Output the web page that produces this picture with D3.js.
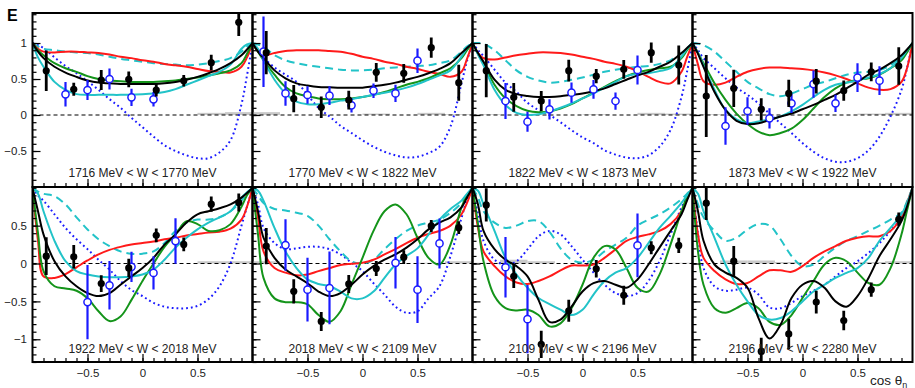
<!DOCTYPE html>
<html>
<head>
<meta charset="utf-8">
<script src="https://cdn.jsdelivr.net/npm/d3@7"></script>
<style>
body { margin: 0; background: #fff; }
svg { display: block; font-family: "Liberation Sans", Arial, sans-serif; }
</style>
</head>
<body>
<div id="chart"></div>
<script>
// cos theta grid the model curves are read on
const cosGrid = [-1, -0.95, -0.9, -0.8, -0.7, -0.6, -0.5, -0.4, -0.3, -0.2, -0.1, 0, 0.1, 0.2, 0.3, 0.4, 0.5, 0.6, 0.7, 0.8, 0.9, 0.95, 1];

const panelLabels = [
  "1716 MeV < W < 1770 MeV", "1770 MeV < W < 1822 MeV", "1822 MeV < W < 1873 MeV", "1873 MeV < W < 1922 MeV",
  "1922 MeV < W < 2018 MeV", "2018 MeV < W < 2109 MeV", "2109 MeV < W < 2196 MeV", "2196 MeV < W < 2280 MeV"
];

// red solid
const curveRed = [
  [1, 0.92, 0.88, 0.87, 0.88, 0.88, 0.87, 0.86, 0.84, 0.81, 0.79, 0.76, 0.74, 0.71, 0.69, 0.67, 0.64, 0.61, 0.6, 0.59, 0.67, 0.8, 1],
  [1, 0.88, 0.83, 0.86, 0.89, 0.9, 0.9, 0.9, 0.89, 0.88, 0.85, 0.81, 0.78, 0.74, 0.71, 0.67, 0.64, 0.6, 0.57, 0.53, 0.6, 0.78, 1],
  [1, 0.86, 0.79, 0.77, 0.8, 0.83, 0.85, 0.87, 0.87, 0.86, 0.84, 0.81, 0.78, 0.74, 0.71, 0.67, 0.61, 0.53, 0.46, 0.44, 0.6, 0.8, 1],
  [1, 0.7, 0.47, 0.42, 0.45, 0.53, 0.6, 0.64, 0.66, 0.66, 0.65, 0.64, 0.62, 0.59, 0.55, 0.5, 0.44, 0.38, 0.35, 0.36, 0.46, 0.65, 1],
  [1, 0.3, -0.17, -0.19, -0.14, -0.05, 0.04, 0.12, 0.18, 0.22, 0.25, 0.27, 0.29, 0.32, 0.34, 0.37, 0.39, 0.41, 0.42, 0.46, 0.58, 0.75, 1],
  [1, 0.61, 0.16, -0.06, -0.12, -0.155, -0.146, -0.1, -0.06, -0.02, -0.004, 0.01, 0.05, 0.12, 0.19, 0.27, 0.34, 0.39, 0.43, 0.5, 0.65, 0.8, 1],
  [1, 0.47, 0.16, -0.035, -0.17, -0.25, -0.27, -0.23, -0.17, -0.09, -0.027, -0.027, -0.013, 0.075, 0.186, 0.3, 0.35, 0.385, 0.43, 0.52, 0.69, 0.85, 1],
  [1, 0.385, 0.075, -0.1, -0.21, -0.27, -0.257, -0.17, -0.09, -0.09, -0.11, -0.035, 0.075, 0.16, 0.23, 0.3, 0.34, 0.36, 0.36, 0.43, 0.61, 0.8, 1]
];

// cyan dashed
const curveCyanDash = [
  [1, 0.95, 0.92, 0.9, 0.88, 0.87, 0.86, 0.84, 0.81, 0.78, 0.76, 0.74, 0.72, 0.71, 0.7, 0.69, 0.7, 0.72, 0.75, 0.79, 0.88, 0.95, 1],
  [1, 0.98, 0.95, 0.83, 0.76, 0.72, 0.69, 0.67, 0.65, 0.63, 0.62, 0.62, 0.63, 0.65, 0.66, 0.67, 0.68, 0.69, 0.72, 0.76, 0.88, 0.95, 1],
  [1, 1.0, 0.99, 0.9, 0.76, 0.62, 0.53, 0.48, 0.45, 0.46, 0.49, 0.52, 0.56, 0.6, 0.63, 0.65, 0.67, 0.68, 0.71, 0.76, 0.86, 0.93, 1],
  [1, 0.99, 0.97, 0.88, 0.74, 0.6, 0.46, 0.37, 0.29, 0.26, 0.3, 0.36, 0.42, 0.46, 0.51, 0.56, 0.59, 0.6, 0.625, 0.69, 0.81, 0.9, 1],
  [1, 0.95, 0.92, 0.89, 0.78, 0.61, 0.45, 0.32, 0.23, 0.16, 0.13, 0.13, 0.16, 0.27, 0.43, 0.54, 0.58, 0.58, 0.61, 0.69, 0.83, 0.92, 1],
  [1, 0.9, 0.8, 0.72, 0.7, 0.67, 0.63, 0.5, 0.32, 0.16, 0.03, 0.0, 0.05, 0.19, 0.32, 0.43, 0.5, 0.54, 0.58, 0.67, 0.8, 0.9, 1],
  [1, 0.87, 0.69, 0.54, 0.47, 0.5, 0.56, 0.56, 0.42, 0.2, 0.05, 0.01, 0.05, 0.16, 0.25, 0.34, 0.5, 0.58, 0.65, 0.74, 0.85, 0.92, 1],
  [1, 0.78, 0.61, 0.43, 0.3, 0.34, 0.45, 0.52, 0.5, 0.32, 0.1, -0.035, -0.013, 0.1, 0.21, 0.3, 0.36, 0.43, 0.5, 0.58, 0.67, 0.82, 1]
];

// black solid
const curveBlack = [
  [1, 0.88, 0.79, 0.67, 0.59, 0.53, 0.48, 0.45, 0.44, 0.43, 0.43, 0.43, 0.43, 0.44, 0.46, 0.49, 0.53, 0.58, 0.64, 0.72, 0.83, 0.91, 1],
  [1, 0.88, 0.79, 0.62, 0.51, 0.44, 0.41, 0.39, 0.385, 0.38, 0.38, 0.38, 0.4, 0.42, 0.45, 0.49, 0.53, 0.58, 0.64, 0.72, 0.86, 0.93, 1],
  [1, 0.86, 0.74, 0.49, 0.35, 0.29, 0.265, 0.25, 0.25, 0.26, 0.28, 0.3, 0.33, 0.37, 0.43, 0.49, 0.55, 0.6, 0.67, 0.74, 0.86, 0.93, 1],
  [1, 0.85, 0.67, 0.32, 0.07, -0.08, -0.125, -0.115, -0.07, -0.02, 0.02, 0.08, 0.14, 0.21, 0.28, 0.37, 0.46, 0.56, 0.63, 0.72, 0.83, 0.91, 1],
  [1, 0.69, 0.385, 0.03, -0.17, -0.3, -0.39, -0.43, -0.39, -0.28, -0.17, -0.06, 0.075, 0.25, 0.385, 0.54, 0.65, 0.69, 0.73, 0.78, 0.87, 0.93, 1],
  [1, 0.69, 0.34, 0.075, -0.08, -0.17, -0.26, -0.37, -0.43, -0.39, -0.28, -0.146, -0.035, 0.05, 0.12, 0.21, 0.32, 0.45, 0.54, 0.61, 0.74, 0.87, 1],
  [1, 0.78, 0.43, 0.19, 0.05, -0.035, -0.17, -0.48, -0.77, -0.74, -0.57, -0.37, -0.26, -0.23, -0.28, -0.32, -0.21, -0.013, 0.21, 0.43, 0.65, 0.83, 1],
  [1, 0.69, 0.3, -0.013, -0.12, -0.19, -0.32, -0.72, -0.99, -0.81, -0.456, -0.28, -0.23, -0.32, -0.5, -0.57, -0.43, -0.19, 0.1, 0.32, 0.56, 0.75, 1]
];

// green solid
const curveGreen = [
  [1, 0.9, 0.83, 0.72, 0.65, 0.6, 0.54, 0.5, 0.48, 0.47, 0.46, 0.46, 0.46, 0.47, 0.48, 0.5, 0.52, 0.55, 0.58, 0.62, 0.72, 0.85, 1],
  [1, 0.88, 0.76, 0.56, 0.39, 0.3, 0.26, 0.23, 0.22, 0.22, 0.23, 0.25, 0.28, 0.32, 0.37, 0.42, 0.46, 0.51, 0.58, 0.65, 0.79, 0.9, 1],
  [1, 0.85, 0.72, 0.42, 0.23, 0.125, 0.06, 0.04, 0.05, 0.09, 0.15, 0.23, 0.31, 0.39, 0.47, 0.54, 0.59, 0.625, 0.65, 0.67, 0.79, 0.9, 1],
  [1, 0.86, 0.72, 0.44, 0.21, 0.02, -0.125, -0.23, -0.28, -0.25, -0.19, -0.07, 0.09, 0.25, 0.37, 0.45, 0.49, 0.51, 0.56, 0.65, 0.76, 0.87, 1],
  [1, 0.4, -0.1, -0.3, -0.33, -0.36, -0.46, -0.63, -0.76, -0.7, -0.48, -0.23, 0.0, 0.22, 0.385, 0.56, 0.52, 0.43, 0.44, 0.52, 0.75, 0.9, 1],
  [1, 0.385, -0.19, -0.46, -0.51, -0.51, -0.54, -0.68, -0.77, -0.63, -0.28, 0.075, 0.43, 0.69, 0.78, 0.65, 0.34, 0.075, -0.013, 0.25, 0.74, 0.9, 1],
  [1, 0.52, 0.03, -0.43, -0.59, -0.62, -0.61, -0.68, -0.83, -0.79, -0.59, -0.28, 0.075, 0.23, 0.186, -0.06, -0.32, -0.37, -0.146, 0.25, 0.69, 0.88, 1],
  [1, 0.16, -0.28, -0.59, -0.65, -0.59, -0.52, -0.59, -0.77, -0.81, -0.68, -0.456, -0.23, -0.013, 0.075, 0.03, -0.12, -0.257, -0.28, -0.06, 0.385, 0.7, 1]
];

// cyan solid
const curveCyan = [
  [1, 0.8, 0.67, 0.46, 0.35, 0.29, 0.28, 0.28, 0.28, 0.28, 0.285, 0.29, 0.3, 0.32, 0.36, 0.42, 0.48, 0.54, 0.6, 0.7, 0.92, 0.98, 1],
  [1, 0.92, 0.76, 0.49, 0.3, 0.185, 0.15, 0.15, 0.17, 0.2, 0.22, 0.25, 0.28, 0.31, 0.34, 0.38, 0.43, 0.49, 0.55, 0.62, 0.81, 0.93, 1],
  [1, 0.84, 0.69, 0.35, 0.14, 0.03, 0.0, 0.01, 0.05, 0.1, 0.16, 0.23, 0.3, 0.38, 0.46, 0.54, 0.57, 0.58, 0.61, 0.65, 0.81, 0.92, 1],
  [1, 0.86, 0.69, 0.35, 0.07, -0.06, -0.115, -0.09, -0.06, -0.02, 0.05, 0.14, 0.25, 0.35, 0.42, 0.45, 0.48, 0.52, 0.57, 0.65, 0.79, 0.9, 1],
  [1, 0.92, 0.69, 0.3, 0.03, -0.1, -0.146, -0.17, -0.18, -0.18, -0.17, -0.146, -0.08, 0.05, 0.21, 0.34, 0.45, 0.54, 0.61, 0.69, 0.87, 0.94, 1],
  [1, 0.96, 0.83, 0.47, 0.16, -0.06, -0.21, -0.27, -0.3, -0.37, -0.46, -0.46, -0.37, -0.19, -0.013, 0.1, 0.2, 0.38, 0.58, 0.72, 0.83, 0.92, 1],
  [1, 0.96, 0.78, 0.43, 0.075, -0.146, -0.32, -0.456, -0.535, -0.61, -0.68, -0.61, -0.41, -0.23, -0.12, -0.06, 0.075, 0.27, 0.47, 0.63, 0.8, 0.9, 1],
  [1, 0.92, 0.69, 0.34, -0.013, -0.28, -0.5, -0.68, -0.74, -0.72, -0.63, -0.5, -0.37, -0.28, -0.19, -0.124, -0.06, 0.075, 0.3, 0.47, 0.65, 0.8, 1]
];

// blue dotted
const curveBlueDot = [
  [1, 0.97, 0.93, 0.8, 0.68, 0.58, 0.47, 0.35, 0.22, 0.1, -0.04, -0.17, -0.3, -0.42, -0.5, -0.56, -0.6, -0.6, -0.52, -0.35, 0.15, 0.55, 1],
  [1, 0.9, 0.8, 0.66, 0.56, 0.46, 0.28, 0.1, -0.02, -0.15, -0.25, -0.35, -0.44, -0.51, -0.56, -0.59, -0.58, -0.53, -0.44, -0.16, 0.44, 0.75, 1],
  [1, 0.9, 0.82, 0.63, 0.45, 0.32, 0.17, 0.07, 0.0, -0.1, -0.21, -0.31, -0.39, -0.49, -0.55, -0.59, -0.6, -0.56, -0.44, -0.21, 0.25, 0.6, 1],
  [1, 0.9, 0.79, 0.65, 0.51, 0.38, 0.28, 0.16, 0.02, -0.115, -0.25, -0.39, -0.51, -0.6, -0.65, -0.65, -0.6, -0.49, -0.3, -0.02, 0.35, 0.65, 1],
  [1, 0.9, 0.83, 0.65, 0.47, 0.32, 0.19, 0.05, -0.08, -0.23, -0.35, -0.43, -0.52, -0.57, -0.59, -0.59, -0.56, -0.47, -0.3, 0.0, 0.5, 0.75, 1],
  [1, 0.78, 0.47, 0.27, 0.19, 0.2, 0.22, 0.22, 0.19, 0.12, 0.01, -0.1, -0.26, -0.41, -0.57, -0.65, -0.63, -0.46, -0.3, 0.1, 0.6, 0.85, 1],
  [1, 0.65, 0.3, 0.05, -0.013, 0.03, 0.186, 0.36, 0.43, 0.385, 0.23, 0.05, -0.12, -0.28, -0.39, -0.43, -0.39, -0.23, 0.03, 0.385, 0.74, 0.88, 1],
  [1, 0.385, -0.06, -0.3, -0.36, -0.345, -0.32, -0.41, -0.58, -0.59, -0.52, -0.43, -0.36, -0.28, -0.17, -0.06, 0.03, 0.14, 0.27, 0.43, 0.61, 0.78, 1]
];

// black data points (filled circles)
const blackCos = [-0.875, -0.625, -0.375, -0.125, 0.125, 0.375, 0.625, 0.875];
const blackVal = [
  [0.615, 0.357, 0.486, 0.496, 0.347, 0.476, 0.727, 1.287],
  [0.866, 0.227, 0.107, 0.208, 0.593, 0.579, 0.935, 0.449],
  [0.616, 0.245, 0.194, 0.616, 0.54, 0.634, 0.866, 0.694],
  [0.264, 0.37, 0.079, 0.3, 0.47, 0.338, 0.6, 0.68],
  [0.097, 0.088, -0.265, -0.058, 0.372, 0.252, 0.783, 0.805],
  [0.23, -0.367, -0.765, -0.27, -0.066, 0.084, 0.496, 0.473],
  [0.774, -0.168, -1.066, -0.624, -0.07, -0.42, 0.208, 0.239],
  [0.796, 0.031, -1.16, -0.93, -0.509, -0.752, -0.345, 0.584]
];
const blackErr = [
  [0.28, 0.09, 0.14, 0.11, 0.09, 0.08, 0.11, 0.19],
  [0.3, 0.19, 0.15, 0.13, 0.13, 0.13, 0.14, 0.25],
  [0.37, 0.2, 0.14, 0.15, 0.1, 0.13, 0.14, 0.27],
  [0.57, 0.26, 0.155, 0.19, 0.17, 0.14, 0.13, 0.26],
  [0.25, 0.155, 0.11, 0.12, 0.09, 0.09, 0.1, 0.12],
  [0.24, 0.16, 0.125, 0.12, 0.1, 0.09, 0.08, 0.085],
  [0.22, 0.155, 0.18, 0.145, 0.115, 0.125, 0.085, 0.1],
  [0.22, 0.2, 0.18, 0.2, 0.15, 0.13, 0.095, 0.09]
];

// blue data points (open circles)
const blueCos = [
  [-0.7, -0.5, -0.3, -0.1, 0.1],
  [-0.9, -0.7, -0.5, -0.3, -0.1, 0.1, 0.3, 0.5],
  [-0.7, -0.5, -0.3, -0.1, 0.1, 0.3, 0.5],
  [-0.7, -0.5, -0.3, -0.1, 0.1, 0.3, 0.5, 0.7],
  [-0.5, -0.3, -0.1, 0.1, 0.3],
  [-0.7, -0.5, -0.3, 0.3, 0.5, 0.7],
  [-0.7, -0.5, 0.5],
  []
];
const blueVal = [
  [0.287, 0.347, 0.5, 0.246, 0.218],
  [0.88, 0.3, 0.278, 0.269, 0.134, 0.338, 0.3, 0.755],
  [0.194, -0.093, 0.079, 0.31, 0.356, 0.194, 0.625],
  [-0.153, 0.056, -0.046, 0.162, 0.43, 0.162, 0.52, 0.477],
  [-0.509, -0.288, -0.044, -0.124, 0.296],
  [0.243, -0.345, -0.323, 0.009, -0.345, 0.265],
  [-0.049, -0.735, 0.239],
  []
];
const blueErr = [
  [0.17, 0.14, 0.145, 0.12, 0.1],
  [0.49, 0.17, 0.12, 0.13, 0.1, 0.1, 0.12, 0.17],
  [0.25, 0.14, 0.14, 0.14, 0.13, 0.12, 0.2],
  [0.26, 0.19, 0.14, 0.135, 0.19, 0.12, 0.2, 0.2],
  [0.49, 0.32, 0.2, 0.22, 0.3],
  [0.34, 0.42, 0.48, 0.34, 0.44, 0.33],
  [0.4, 0.45, 0.42],
  []
];

// systematic error band (grey bars at zero, per black-point bin)
const sysErr = [
  [0, 0, 0, 0, 0, 0, 0.03, 0.04],
  [0.04, 0, 0, 0, 0.02, 0, 0.03, 0.01],
  [0.01, 0, 0, 0, 0.01, 0, 0.03, 0.02],
  [0.01, 0, 0, 0, 0.01, 0, 0.02, 0.03],
  [0.01, 0, 0, 0, 0.01, 0, 0.03, 0.03],
  [0.03, 0, 0, 0, 0, 0, 0.01, 0.03],
  [0.01, 0.05, 0.03, 0, 0, 0, 0, 0.01],
  [0, 0.04, 0.04, 0.02, 0, 0, 0.02, 0.03]
];

const yDomains = [[-1.0, 1.417], [-1.3, 1.01]];
const yMajor = [[-0.5, 0, 0.5, 1], [-1, -0.5, 0, 0.5]];
const xMajor = [-0.5, 0, 0.5];

const W = 915, H = 388;
const colX = [32.5, 252.5, 472.5, 692.5];
const panelW = 220;
const rowY = [[13, 187], [187, 362]];

const svg = d3.select("#chart").append("svg")
  .attr("width", W).attr("height", H);

const fmt = d => (d < 0 ? "\u2212" : "") + Math.abs(d);

const line = (x, y) => d3.line()
  .x((d, i) => x(cosGrid[i]))
  .y(d => y(d))
  .curve(d3.curveCatmullRom.alpha(0.5));

const curves = [
  { data: curveBlueDot, color: "#1a1aff", width: 2, dash: "1.8,3" },
  { data: curveCyanDash, color: "#22c3c8", width: 2, dash: "8,5" },
  { data: curveRed, color: "#ff1a1a", width: 2, dash: null },
  { data: curveGreen, color: "#14941a", width: 2, dash: null },
  { data: curveCyan, color: "#22c3c8", width: 2, dash: null },
  { data: curveBlack, color: "#000", width: 2, dash: null }
];

for (let p = 0; p < 8; p++) {
  const row = Math.floor(p / 4), col = p % 4;
  const x0 = colX[col], y0 = rowY[row][0], y1 = rowY[row][1];
  const x = d3.scaleLinear().domain([-1, 1]).range([x0, x0 + panelW]);
  const y = d3.scaleLinear().domain(yDomains[row]).range([y1, y0]);

  const g = svg.append("g");
  const clipId = "clip" + p;
  svg.append("clipPath").attr("id", clipId)
    .append("rect").attr("x", x0).attr("y", y0).attr("width", panelW).attr("height", y1 - y0);
  const pg = g.append("g").attr("clip-path", `url(#${clipId})`);

  // systematic band
  pg.selectAll("rect.sys").data(sysErr[p]).join("rect")
    .attr("x", (d, i) => x(blackCos[i] - 0.125))
    .attr("width", x(0.25) - x(0))
    .attr("y", d => y(d))
    .attr("height", d => y(0) - y(d))
    .attr("fill", "#c8c8c8");

  // zero line
  pg.append("line")
    .attr("x1", x(-1)).attr("x2", x(1))
    .attr("y1", y(0)).attr("y2", y(0))
    .attr("stroke", "#000").attr("stroke-width", 1)
    .attr("stroke-dasharray", "4,3");

  curves.forEach(c => {
    pg.append("path")
      .attr("d", line(x, y)(c.data[p]))
      .attr("fill", "none")
      .attr("stroke", c.color)
      .attr("stroke-width", c.width)
      .attr("stroke-dasharray", c.dash);
  });

  // blue open points
  const blue = blueCos[p].map((c, i) => ({ c, v: blueVal[p][i], e: blueErr[p][i] }));
  const bg = pg.append("g");
  bg.selectAll("line.bar").data(blue).join("line")
    .attr("x1", d => x(d.c)).attr("x2", d => x(d.c))
    .attr("y1", d => y(d.v + d.e)).attr("y2", d => y(d.v - d.e))
    .attr("stroke", "#1a1aff").attr("stroke-width", 2.2);
  bg.selectAll("circle").data(blue).join("circle")
    .attr("cx", d => x(d.c)).attr("cy", d => y(d.v)).attr("r", 3.6)
    .attr("fill", "#fff").attr("stroke", "#1a1aff").attr("stroke-width", 1.5);

  // black filled points
  const black = blackCos.map((c, i) => ({ c, v: blackVal[p][i], e: blackErr[p][i] }));
  const kg = pg.append("g");
  kg.selectAll("line.bar").data(black).join("line")
    .attr("x1", d => x(d.c)).attr("x2", d => x(d.c))
    .attr("y1", d => y(d.v + d.e)).attr("y2", d => y(d.v - d.e))
    .attr("stroke", "#000").attr("stroke-width", 2.8);
  kg.selectAll("circle").data(black).join("circle")
    .attr("cx", d => x(d.c)).attr("cy", d => y(d.v)).attr("r", 3.6)
    .attr("fill", "#000");

  // panel label
  g.append("text")
    .attr("x", x(0)).attr("y", row === 0 ? 177 : 353)
    .attr("text-anchor", "middle")
    .attr("font-size", 12).attr("fill", "#222")
    .text(panelLabels[p]);

  // left axis ticks (inward)
  const yMinor = d3.range(Math.ceil(yDomains[row][0] * 10), Math.floor(yDomains[row][1] * 10) + 1).map(d => d / 10);
  g.append("g").attr("transform", `translate(${x0},0)`)
    .call(d3.axisLeft(y).tickValues(yMinor).tickSize(-4).tickFormat(""))
    .call(a => a.select(".domain").remove())
    .call(a => a.selectAll("line").attr("stroke-width", 1.2));
  const ya = g.append("g").attr("transform", `translate(${x0},0)`)
    .call(d3.axisLeft(y).tickValues(yMajor[row]).tickSize(-8).tickPadding(5.5)
      .tickFormat(col === 0 ? fmt : ""))
    .call(a => a.select(".domain").remove())
    .call(a => a.selectAll("line").attr("stroke-width", 1.2));
  ya.selectAll("text").attr("font-size", 11.5).attr("fill", "#222")
    .attr("font-family", "\"Liberation Sans\", Arial, sans-serif");

  // bottom axis ticks (inward)
  const xMinor = d3.range(-9, 10).map(d => d / 10);
  g.append("g").attr("transform", `translate(0,${y1})`)
    .call(d3.axisBottom(x).tickValues(xMinor).tickSize(-4).tickFormat(""))
    .call(a => a.select(".domain").remove())
    .call(a => a.selectAll("line").attr("stroke-width", 1.2));
  const xa = g.append("g").attr("transform", `translate(0,${y1})`)
    .call(d3.axisBottom(x).tickValues(xMajor).tickSize(-8).tickPadding(7)
      .tickFormat(row === 1 ? fmt : ""))
    .call(a => a.select(".domain").remove())
    .call(a => a.selectAll("line").attr("stroke-width", 1.2));
  xa.selectAll("text").attr("font-size", 11.5).attr("fill", "#222")
    .attr("font-family", "\"Liberation Sans\", Arial, sans-serif");

  // frame
  g.append("rect")
    .attr("x", x0).attr("y", y0).attr("width", panelW).attr("height", y1 - y0)
    .attr("fill", "none").attr("stroke", "#000").attr("stroke-width", 2);
}

// observable label
svg.append("text")
  .attr("x", 7).attr("y", 21)
  .attr("font-size", 16).attr("font-weight", "bold")
  .text("E");

// x axis title
const xt = svg.append("text")
  .attr("x", 870).attr("y", 385)
  .attr("font-size", 13.5).attr("fill", "#222");
xt.append("tspan").text("cos \u03b8");
xt.append("tspan").attr("dy", 2.5).attr("font-size", 9).text("n");
</script>
</body>
</html>
